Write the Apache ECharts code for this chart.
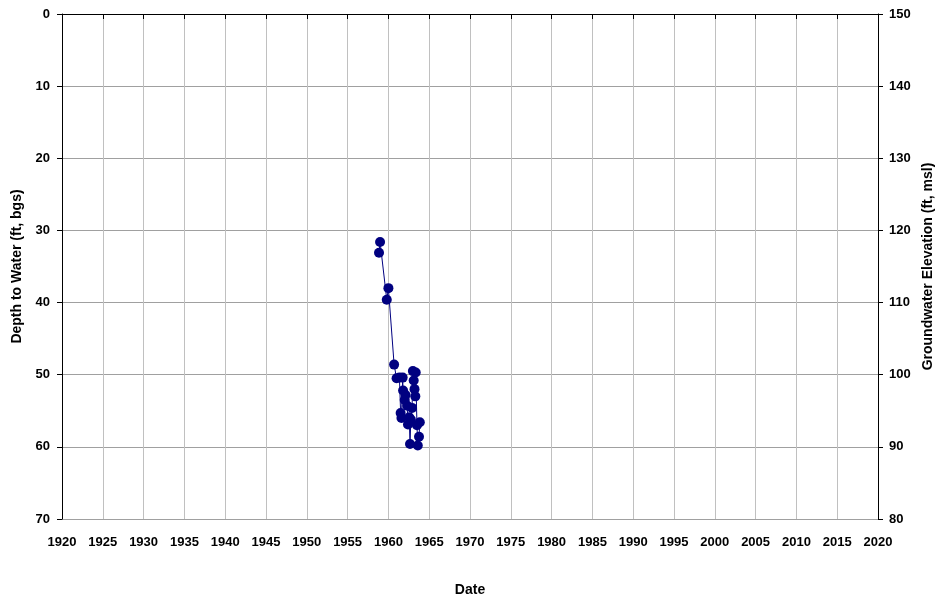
<!DOCTYPE html>
<html>
<head>
<meta charset="utf-8">
<script src="https://cdn.jsdelivr.net/npm/echarts@6/dist/echarts.min.js"></script>
<style>
  html, body { margin: 0; padding: 0; background: #fff; }
  #chart { width: 938px; height: 600px; }
</style>
</head>
<body>
<div id="chart"></div>
<script>
// measurement dates (decimal years) and depth to water (ft bgs)
var years = [1958.85, 1958.98, 1959.8, 1960.0, 1960.7, 1961.0, 1961.35, 1961.5, 1961.6, 1961.75,
  1961.8, 1962.0, 1962.1, 1962.3, 1962.4, 1962.55, 1962.65, 1962.75, 1962.9, 1963.0,
  1963.1, 1963.2, 1963.3, 1963.35, 1963.5, 1963.6, 1963.75, 1963.85]
var depths = [33.1, 31.6, 39.6, 38.0, 48.6, 50.5, 50.4, 55.3, 56.0, 50.4,
  52.2, 53.5, 52.8, 54.3, 56.9, 55.9, 59.6, 56.2, 54.6, 49.5,
  50.8, 52.0, 53.0, 49.7, 57.0, 59.8, 58.6, 56.6]

var font = 'Liberation Sans, Arial, sans-serif'
var chart = echarts.init(document.getElementById('chart'))
var points = years.map(function (y, i) { return [y, depths[i]] })

var titleStyle = { fontFamily: font, fontWeight: 'bold', fontSize: 14, color: '#000' }
var labelStyle = { fontFamily: font, fontWeight: 'bold', fontSize: 13, color: '#000' }

chart.setOption({
  animation: false,
  grid: { left: 62, right: 60, top: 14, bottom: 81, outerBoundsMode: 'none' },
  xAxis: {
    type: 'value',
    min: 1920,
    max: 2020,
    interval: 5,
    name: 'Date',
    nameLocation: 'middle',
    nameGap: 64,
    nameTextStyle: titleStyle,
    axisLine: { lineStyle: { color: '#000' } },
    axisTick: { show: true, length: 5, lineStyle: { color: '#000' } },
    axisLabel: Object.assign({ margin: 17, formatter: function (v) { return String(v) } }, labelStyle),
    splitLine: { show: true, lineStyle: { color: '#c0c0c0', width: 1 } }
  },
  yAxis: [
    {
      type: 'value',
      min: 0,
      max: 70,
      interval: 10,
      inverse: true,
      name: 'Depth to Water (ft, bgs)',
      nameLocation: 'middle',
      nameGap: 37,
      nameTextStyle: titleStyle,
      axisLine: { show: true, lineStyle: { color: '#000' } },
      axisTick: { show: true, length: 5, lineStyle: { color: '#000' } },
      axisLabel: Object.assign({ margin: 12 }, labelStyle),
      splitLine: { show: true, lineStyle: { color: '#a0a0a0', width: 1 } }
    },
    {
      type: 'value',
      min: 80,
      max: 150,
      interval: 10,
      position: 'right',
      name: 'Groundwater Elevation (ft, msl)',
      nameLocation: 'middle',
      nameGap: 43,
      nameRotate: 90,
      nameTextStyle: titleStyle,
      axisLine: { show: true, lineStyle: { color: '#000' } },
      axisTick: { show: true, length: 5, lineStyle: { color: '#000' } },
      axisLabel: Object.assign({ margin: 11 }, labelStyle),
      splitLine: { show: false }
    }
  ],
  series: [
    {
      type: 'line',
      yAxisIndex: 0,
      data: points,
      symbol: 'circle',
      symbolSize: 10,
      itemStyle: { color: '#000080' },
      lineStyle: { color: '#000080', width: 1 }
    }
  ]
})
</script>
</body>
</html>
